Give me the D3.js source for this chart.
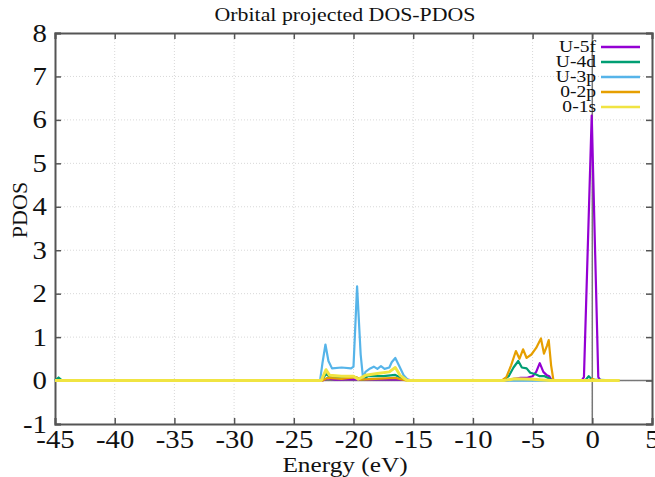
<!DOCTYPE html>
<html>
<head>
<meta charset="utf-8">
<script src="https://cdn.jsdelivr.net/npm/d3@7"></script>
<style>
  body { margin: 0; background: #fff; }
  text { font-family: "Liberation Serif", "DejaVu Serif", serif; fill: #111; }
</style>
</head>
<body>
<div id="chart-container"></div>
<script>
// [energy (eV), PDOS] pairs
const u5f = [[-45,0],[-22.6,0],[-22.2,0.05],[-21.5,0.02],[-19.8,0.03],[-15.5,0.02],[-15,0],
  [-7.2,0],[-6.6,0.04],[-6,0.06],[-5.4,0.07],[-5,0.1],[-4.7,0.2],[-4.4,0.4],[-4.1,0.2],[-3.8,0.12],[-3.6,0.1],[-3.4,0],
  [-0.9,0],[-0.7,0.08],[-0.05,6.1],[0.5,0.08],[0.7,0],[2.2,0]];
const u4d = [[-45,0],[-44.7,0.07],[-44.4,0],[-22.7,0],[-22.3,0.15],[-22,0.09],[-21,0.08],[-20,0.09],[-19.6,0.05],[-19.2,0.02],
  [-18.8,0.1],[-17.5,0.1],[-16.5,0.13],[-16,0.06],[-15.3,0],
  [-7.5,0],[-7,0.1],[-6.6,0.3],[-6.2,0.45],[-5.9,0.3],[-5.5,0.28],[-5.2,0.18],[-4.8,0.15],[-4.4,0.1],[-4,0.1],[-3.6,0.05],[-3.4,0],
  [-0.6,0],[-0.3,0.1],[0,0.02],[2.2,0]];
const u3p = [[-45,0],[-22.8,0],[-22.6,0.4],[-22.35,0.83],[-22.1,0.45],[-21.8,0.28],[-21,0.3],[-20.2,0.28],[-20,0.32],
  [-19.7,2.17],[-19.4,0.6],[-19.2,0.05],[-19,0.2],[-18.6,0.28],[-18.3,0.32],[-18,0.27],[-17.7,0.33],[-17.4,0.27],[-17,0.3],
  [-16.8,0.42],[-16.5,0.52],[-16.2,0.35],[-15.8,0.12],[-15.4,0],[2.2,0]];
const o2p = [[-45,0],[-22.6,0],[-22.2,0.06],[-21,0.04],[-19.8,0.08],[-19.4,0.02],[-16.5,0.06],[-15.5,0],
  [-7.6,0],[-7.2,0.08],[-6.8,0.35],[-6.4,0.68],[-6.1,0.5],[-5.8,0.72],[-5.5,0.52],[-5.1,0.6],[-4.7,0.75],
  [-4.3,0.97],[-4.05,0.62],[-3.8,0.8],[-3.65,0.93],[-3.45,0.35],[-3.25,0],[-0.2,0],[0,0.04],[0.3,0],[2.2,0]];
const o1s = [[-45,0],[-22.7,0],[-22.3,0.25],[-22,0.12],[-21,0.1],[-20,0.1],[-19.6,0.03],[-19,0.12],[-18,0.16],
  [-17,0.2],[-16.5,0.3],[-16.1,0.12],[-15.5,0],[-7.4,0],[-6.5,0.04],[-5,0.03],[-3.5,0],[2.3,0]];

const seriesNames = ["U-5f", "U-4d", "U-3p", "0-2p", "0-1s"];
const seriesData = [u5f, u4d, u3p, o2p, o1s];
const seriesColors = ["#9400d3", "#009e73", "#56b4e9", "#e69f00", "#f0e442"];
const xTicks = [-45, -40, -35, -30, -25, -20, -15, -10, -5, 0, 5];
const yTicks = [-1, 0, 1, 2, 3, 4, 5, 6, 7, 8];

const width = 655, height = 477;
const margin = { left: 55, right: 3, top: 33, bottom: 53 };
const innerWidth = width - margin.left - margin.right;
const innerHeight = height - margin.top - margin.bottom;
const stretch = 1.15; // the reference text is wider than it is tall

const svg = d3.select("#chart-container").append("svg")
  .attr("width", width).attr("height", height);

const xScale = d3.scaleLinear().domain([-45, 5]).range([0, innerWidth]);
const yScale = d3.scaleLinear().domain([-1, 8]).range([innerHeight, 0]);

const g = svg.append("g").attr("transform", `translate(${margin.left},${margin.top})`);

// dotted grid
g.append("g").selectAll("line").data(xTicks.slice(1, -1)).join("line")
  .attr("x1", d => xScale(d)).attr("x2", d => xScale(d))
  .attr("y1", 0).attr("y2", innerHeight)
  .attr("stroke", "#d8d8d8").attr("stroke-dasharray", "1,2");
g.append("g").selectAll("line").data(yTicks.slice(1, -1)).join("line")
  .attr("x1", 0).attr("x2", innerWidth)
  .attr("y1", d => yScale(d)).attr("y2", d => yScale(d))
  .attr("stroke", "#d8d8d8").attr("stroke-dasharray", "1,2");

// zero axes
g.append("line").attr("x1", 0).attr("x2", innerWidth)
  .attr("y1", yScale(0)).attr("y2", yScale(0))
  .attr("stroke", "#777").attr("stroke-width", 1.5);
g.append("line").attr("x1", xScale(0)).attr("x2", xScale(0))
  .attr("y1", 0).attr("y2", innerHeight)
  .attr("stroke", "#777").attr("stroke-width", 1.5);

// axes with inward ticks
const axisColor = "#555";
const fmt = d => String(d);
const xAxisBottom = g.append("g").attr("class", "x-axis")
  .attr("transform", `translate(0,${innerHeight})`)
  .call(d3.axisBottom(xScale).tickValues(xTicks).tickSize(-6).tickPadding(6).tickFormat(fmt));
const xAxisTop = g.append("g").call(d3.axisTop(xScale).tickValues(xTicks).tickSize(-6).tickFormat(""));
const yAxisLeft = g.append("g").attr("class", "y-axis")
  .call(d3.axisLeft(yScale).tickValues(yTicks).tickSize(-6).tickPadding(7).tickFormat(fmt));
const yAxisRight = g.append("g").attr("transform", `translate(${innerWidth},0)`)
  .call(d3.axisRight(yScale).tickValues(yTicks).tickSize(-6).tickFormat(""));
[xAxisBottom, xAxisTop, yAxisLeft, yAxisRight].forEach(a => {
  a.attr("font-family", null);
  a.select(".domain").attr("stroke", axisColor).attr("stroke-width", 2);
  a.selectAll(".tick line").attr("stroke", axisColor).attr("stroke-width", 1.5);
  a.selectAll(".tick text").style("font-size", "25px")
    .style("font-family", '"Liberation Serif", serif').attr("fill", "#111")
    .attr("transform", `scale(${stretch},1)`);
});

// series lines
const line = d3.line().x(d => xScale(d[0])).y(d => yScale(d[1]));
seriesData.forEach((s, i) => {
  g.append("path").datum(s)
    .attr("d", line)
    .attr("fill", "none")
    .attr("stroke", seriesColors[i])
    .attr("stroke-width", i === 4 ? 3 : 2.2)
    .attr("stroke-linejoin", "round");
});

// legend
const legend = svg.append("g");
seriesNames.forEach((name, i) => {
  const y = 47 + i * 15;
  legend.append("text").attr("transform", `translate(596,${y + 5}) scale(${stretch},1)`)
    .attr("text-anchor", "end").style("font-size", "17px").text(name);
  legend.append("line").attr("x1", 601).attr("x2", 640)
    .attr("y1", y).attr("y2", y)
    .attr("stroke", seriesColors[i]).attr("stroke-width", 2.5);
});

// titles
svg.append("text").attr("transform", `translate(345,21) scale(${stretch},1)`).attr("text-anchor", "middle")
  .style("font-size", "19px").text("Orbital projected DOS-PDOS");
svg.append("text").attr("transform", `translate(345,472) scale(${stretch},1)`).attr("text-anchor", "middle")
  .style("font-size", "22px").text("Energy (eV)");
svg.append("text").attr("transform", "translate(27,210) rotate(-90)")
  .attr("text-anchor", "middle").style("font-size", "22px").text("PDOS");
</script>
</body>
</html>
